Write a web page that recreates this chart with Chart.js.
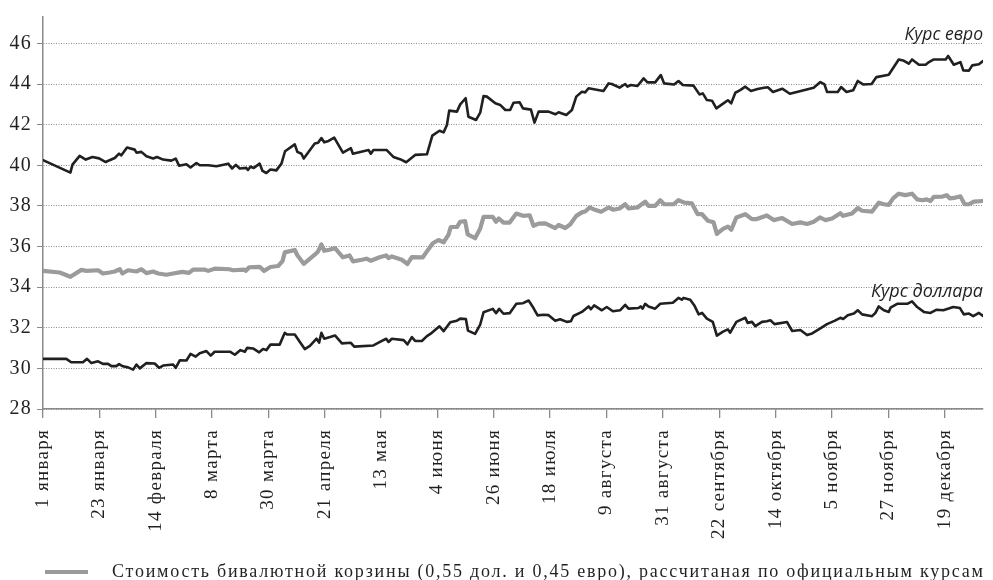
<!DOCTYPE html>
<html lang="ru">
<head>
<meta charset="utf-8">
<title>Курсы валют</title>
<script src="https://cdn.jsdelivr.net/npm/chart.js@4.4.1/dist/chart.umd.min.js"></script>
<style>
  html, body { margin: 0; padding: 0; background: #fff; }
  canvas { display: block; }
</style>
</head>
<body>
<canvas id="kursy" width="993" height="580"></canvas>
<script>
// === ДАННЫЕ (день от 1 января, значение в рублях) ===
const tickLabels = ['1 января', '23 января', '14 февраля', '8 марта', '30 марта', '21 апреля', '13 мая',
  '4 июня', '26 июня', '18 июля', '9 августа', '31 августа', '22 сентября', '14 октября',
  '5 ноября', '27 ноября', '19 декабря'];
const yTicks = [28, 30, 32, 34, 36, 38, 40, 42, 44, 46];

const euroDays = [0, 10.7, 11.5, 14.3, 16.7, 19.3, 21.9, 24.5, 26, 28, 29.7, 30.6, 32.8, 35.8, 36.5, 38.4,
  40.4, 43, 44.5, 46.9, 50.1, 51.8, 53.1, 56, 57.6, 59.9, 61.2, 64.5, 67.7, 72.3, 73.8, 75.3, 76.8, 79.4,
  80, 81, 82.3, 84.6, 85.7, 87.2, 88.8, 91.1, 93.1, 94.5, 98.3, 99.3, 100.9, 101.8, 106.1, 107.4, 108.7,
  109.8, 111.5, 113.7, 117.1, 120.2, 121, 127.1, 128, 129, 134.2, 136.8, 139.4, 141.8, 145.3, 149.9, 152,
  154.8, 156.4, 157.7, 158.6, 161.6, 162.9, 165, 166.1, 169.1, 170.7, 172, 173.3, 176.6, 178.5, 180.5,
  182.4, 183.7, 186.1, 187.4, 190.5, 191.9, 193.5, 197.4, 200, 201.3, 204.3, 206.5, 208.2, 210.4, 211.7,
  213, 218.8, 220.8, 222.1, 225.1, 227.3, 228.2, 229.5, 232.1, 234.5, 236, 239, 241.2, 242.5, 246.4,
  248.1, 249.8, 254, 256.3, 257.6, 259.2, 261.2, 262.9, 265.1, 267.4, 268.7, 270.3, 272.2, 274.2, 276.4,
  279, 281.5, 283, 285, 288.6, 291.6, 300.9, 303.5, 305.1, 306.1, 310.3, 311.6, 313.7, 316.3, 318.1,
  320.2, 323.5, 325.4, 330.2, 334.1, 335.8, 338, 339.3, 342, 344.6, 345.9, 347.8, 352.4, 353.4, 355.6,
  358.2, 359.3, 361.5, 362.8, 365.4, 367];
const euroValues = [40.25, 39.64, 40.03, 40.46, 40.28, 40.41, 40.34, 40.16, 40.25, 40.36, 40.57, 40.49,
  40.87, 40.77, 40.62, 40.66, 40.44, 40.33, 40.41, 40.28, 40.23, 40.33, 39.98, 40.05, 39.89, 40.11, 40.0,
  40.0, 39.95, 40.08, 39.84, 40.02, 39.84, 39.87, 39.77, 39.93, 39.87, 40.08, 39.72, 39.62, 39.79, 39.75,
  40.08, 40.69, 41.03, 40.66, 40.57, 40.33, 41.07, 41.11, 41.34, 41.13, 41.2, 41.36, 40.62, 40.84, 40.57,
  40.75, 40.57, 40.75, 40.75, 40.41, 40.3, 40.15, 40.51, 40.54, 41.46, 41.7, 41.62, 41.98, 42.69, 42.64,
  43.0, 43.3, 42.39, 42.23, 42.59, 43.41, 43.38, 43.05, 42.97, 42.72, 42.72, 43.08, 43.1, 42.8, 42.74,
  42.1, 42.64, 42.64, 42.51, 42.61, 42.48, 42.72, 43.38, 43.62, 43.59, 43.79, 43.66, 44.03, 44.0, 43.82,
  44.0, 43.87, 43.95, 43.9, 44.28, 44.08, 44.08, 44.44, 44.03, 43.98, 44.15, 43.95, 43.92, 43.49, 43.54,
  43.21, 43.18, 42.8, 43.0, 43.2, 43.05, 43.57, 43.7, 43.87, 43.66, 43.75, 43.82, 43.84, 43.61, 43.77,
  43.52, 43.82, 44.1, 43.98, 43.61, 43.61, 43.85, 43.61, 43.69, 44.15, 43.98, 44.0, 44.34, 44.46, 45.21,
  45.16, 45.0, 45.21, 44.95, 44.95, 45.08, 45.21, 45.21, 45.38, 44.95, 45.08, 44.67, 44.66, 44.92, 44.97,
  45.13];

const basketDays = [0, 6.5, 10.7, 15, 17, 21.5, 23.4, 26, 28, 30, 31, 33.2, 36.5, 38.4, 40.4, 43, 45, 48.2,
  50.8, 54.4, 57, 58.6, 63.2, 64.5, 67, 72.8, 74.1, 78.6, 79.2, 80.5, 84.6, 86.3, 88.8, 91.8, 93.5, 94.4,
  98.3, 99.3, 101.8, 106.1, 107.4, 108.7, 109.8, 111.8, 114, 117.1, 119.7, 121, 124.5, 126.3, 128, 131.4,
  134, 134.9, 136.2, 140.1, 142.3, 144, 148.3, 149.9, 152.2, 154.4, 156.4, 158.3, 159.2, 161.6, 162.9,
  164.8, 165.8, 168.7, 170.7, 172, 175.6, 176.9, 177.9, 179.8, 182.2, 184.8, 187.4, 190, 191.5, 193.5,
  196.1, 200, 201.3, 203.9, 205.8, 208.2, 210.4, 211.7, 213.4, 214.9, 217.9, 220.8, 222.7, 225.1, 227.3,
  228.6, 232.1, 235.1, 236.4, 239, 241, 242.5, 246.2, 248.1, 250.4, 253.3, 255.6, 257.3, 259.6, 261.8,
  263.1, 265.5, 267.4, 268.7, 270.7, 274.2, 276.8, 278.7, 282.6, 285.3, 288.6, 292.5, 295.7, 298.3,
  300.9, 303.3, 305.5, 308.1, 311.3, 312.4, 315.9, 318.1, 319.8, 323.7, 326.3, 328.3, 330.2, 331.9,
  334.1, 336.7, 339.3, 341.3, 343.3, 345, 346.5, 347.8, 351, 352.8, 354.1, 356.3, 358.2, 359.8, 361.5,
  363.4, 367];
const basketValues = [34.8, 34.72, 34.51, 34.85, 34.8, 34.83, 34.67, 34.72, 34.77, 34.88, 34.67, 34.83,
  34.77, 34.88, 34.69, 34.77, 34.67, 34.61, 34.67, 34.75, 34.7, 34.86, 34.86, 34.8, 34.91, 34.88, 34.83,
  34.86, 34.8, 34.98, 35.0, 34.8, 34.99, 35.04, 35.28, 35.71, 35.83, 35.57, 35.15, 35.6, 35.76, 36.1,
  35.79, 35.84, 35.92, 35.47, 35.56, 35.27, 35.35, 35.4, 35.3, 35.47, 35.56, 35.43, 35.51, 35.35, 35.14,
  35.48, 35.47, 35.76, 36.16, 36.32, 36.21, 36.57, 36.96, 36.96, 37.22, 37.25, 36.6, 36.41, 36.89, 37.46,
  37.46, 37.22, 37.38, 37.18, 37.18, 37.62, 37.51, 37.54, 37.02, 37.13, 37.14, 36.91, 37.06, 36.91, 37.08,
  37.51, 37.68, 37.72, 37.92, 37.84, 37.71, 37.92, 37.81, 37.87, 38.08, 37.87, 37.92, 38.21, 38.0, 38.0,
  38.28, 38.08, 38.08, 38.28, 38.16, 38.13, 37.59, 37.59, 37.27, 37.19, 36.62, 36.87, 36.98, 36.82, 37.43,
  37.59, 37.35, 37.35, 37.53, 37.3, 37.4, 37.11, 37.19, 37.11, 37.22, 37.43, 37.3, 37.38, 37.64, 37.51,
  37.63, 37.89, 37.76, 37.72, 38.16, 38.08, 38.05, 38.37, 38.6, 38.53, 38.6, 38.32, 38.28, 38.32, 38.24,
  38.44, 38.45, 38.53, 38.37, 38.41, 38.47, 38.08, 38.08, 38.21, 38.24];

const usdDays = [0, 9.1, 11, 15.6, 17.2, 18.9, 21.5, 23.4, 25.4, 26.7, 28.6, 29.7, 31.2, 33.2, 35.2, 36.5,
  37.8, 40.4, 43.6, 45.3, 46.9, 50.8, 51.8, 53.4, 56, 57.6, 59.6, 61.2, 63.8, 65.5, 67, 73, 74.9, 77.1,
  78.8, 79.7, 82, 84.4, 85.9, 87.2, 88.8, 92.4, 94.4, 95.3, 98.3, 100.3, 102.2, 104.2, 106.8, 107.8, 108.7,
  109.8, 112.1, 114, 116.7, 120.2, 121.5, 129, 132.3, 134, 134.9, 136.2, 140.8, 142.3, 144, 145.3, 147.9,
  149.9, 151.8, 154.8, 156.4, 159, 161.6, 162.9, 165.1, 165.9, 168.7, 170.7, 172, 175.6, 176.9, 178.1,
  179.8, 182.2, 184.8, 187.4, 189.6, 191.5, 193.1, 195.4, 197.4, 200, 201.9, 204.5, 206.1, 207.1, 210.4,
  213, 213.9, 215.2, 218.2, 220.1, 222.5, 225.3, 227.3, 228.6, 232.5, 233.3, 234.1, 235.1, 236.4, 239,
  241, 245.9, 248.1, 249.4, 250.1, 252.7, 254.3, 256, 257.3, 259.2, 261.5, 263.1, 265.5, 267.4, 268.3,
  270.7, 274.2, 275.1, 276.8, 278.1, 280.7, 282.6, 284, 285.6, 290.5, 292.5, 295.7, 298.3, 300.3, 303.5,
  306.1, 309, 311.3, 312.4, 314.2, 316.6, 318.1, 319.8, 323.7, 325, 326.3, 328.3, 330.2, 330.9, 333.5,
  337.4, 339.3, 341.3, 343.9, 346.5, 348.9, 351.5, 355.4, 358, 359.5, 361.5, 363.2, 365.4, 367];
const usdValues = [30.47, 30.47, 30.3, 30.3, 30.47, 30.26, 30.35, 30.22, 30.22, 30.11, 30.11, 30.21, 30.1,
  30.05, 29.94, 30.19, 30.0, 30.26, 30.24, 30.03, 30.14, 30.19, 30.03, 30.4, 30.39, 30.71, 30.58, 30.75,
  30.85, 30.63, 30.82, 30.82, 30.67, 30.9, 30.82, 31.01, 30.98, 30.79, 30.95, 30.9, 31.17, 31.17, 31.75,
  31.67, 31.67, 31.3, 30.95, 31.11, 31.46, 31.27, 31.75, 31.46, 31.54, 31.62, 31.23, 31.26, 31.07, 31.13,
  31.35, 31.46, 31.3, 31.46, 31.39, 31.18, 31.54, 31.35, 31.35, 31.59, 31.75, 32.07, 31.83, 32.27, 32.35,
  32.45, 32.43, 31.86, 31.7, 32.16, 32.76, 32.93, 32.72, 32.93, 32.69, 32.72, 33.18, 33.21, 33.34, 32.97,
  32.61, 32.64, 32.62, 32.34, 32.42, 32.29, 32.32, 32.58, 32.78, 33.05, 32.91, 33.1, 32.86, 33.02, 32.81,
  32.86, 33.13, 32.94, 32.97, 33.05, 32.94, 33.18, 33.05, 32.94, 33.18, 33.23, 33.47, 33.38, 33.47, 33.38,
  33.1, 32.66, 32.73, 32.45, 32.29, 31.61, 31.81, 31.92, 31.76, 32.29, 32.49, 32.24, 32.29, 32.08, 32.29,
  32.32, 32.37, 32.18, 32.28, 31.84, 31.89, 31.64, 31.72, 31.97, 32.18, 32.34, 32.49, 32.43, 32.62, 32.7,
  32.86, 32.66, 32.57, 32.73, 33.05, 32.86, 32.78, 32.99, 33.18, 33.18, 33.3, 33.02, 32.78, 32.73, 32.89,
  32.86, 33.02, 32.97, 32.66, 32.7, 32.57, 32.73, 32.58];

const legendText = 'Стоимость бивалютной корзины (0,55 дол. и 0,45 евро), рассчитаная по официальным курсам';

// === ОФОРМЛЕНИЕ ===
const cBlack = '#231f20';
const cGray = '#9b9b9b';
const cAxis = '#8a8a8a';
const serif = "'Liberation Serif', 'DejaVu Serif', serif";
const sans = "'Open Sans', 'Noto Sans', sans-serif";

function toPoints(days, values) {
  return days.map((d, i) => ({ x: d, y: values[i] }));
}

// разрядка для подписей осей (в оригинале шрифт шире)
const tracking = {
  id: 'tracking',
  beforeDraw(chart) {
    if ('letterSpacing' in chart.ctx) chart.ctx.letterSpacing = '1.3px';
  }
};

// подписи «Курс евро» / «Курс доллара» у правого края
const seriesNotes = {
  id: 'seriesNotes',
  afterDatasetsDraw(chart) {
    const { ctx, chartArea, scales: { y } } = chart;
    ctx.save();
    if ('letterSpacing' in ctx) ctx.letterSpacing = '0px';
    ctx.fillStyle = cBlack;
    ctx.textAlign = 'right';
    ctx.textBaseline = 'alphabetic';
    ctx.font = 'italic 17.5px ' + sans;
    ctx.fillText('Курс евро', chartArea.right, y.getPixelForValue(46) - 3);
    ctx.font = 'italic 18px ' + sans;
    ctx.fillText('Курс доллара', chartArea.right, y.getPixelForValue(33.5));
    ctx.restore();
  }
};

// легенда только для корзины, внизу под осью
const basketLegend = {
  id: 'basketLegend',
  afterDraw(chart) {
    const { ctx } = chart;
    const ds = chart.data.datasets[1];
    ctx.save();
    ctx.strokeStyle = ds.borderColor;
    ctx.lineWidth = ds.borderWidth;
    ctx.beginPath();
    ctx.moveTo(45, 572);
    ctx.lineTo(88, 572);
    ctx.stroke();
    ctx.font = '18px ' + serif;
    ctx.fillStyle = cBlack;
    ctx.textBaseline = 'alphabetic';
    if ('letterSpacing' in ctx) {
      ctx.letterSpacing = '0px';
      const w = ctx.measureText(ds.label).width;
      ctx.letterSpacing = ((873 - w) / ds.label.length).toFixed(2) + 'px';
    }
    ctx.fillText(ds.label, 112, 577);
    ctx.restore();
  }
};

new Chart(document.getElementById('kursy'), {
  type: 'line',
  data: {
    datasets: [
      { label: 'Курс евро', data: toPoints(euroDays, euroValues), borderColor: cBlack, borderWidth: 2.6 },
      { label: legendText, data: toPoints(basketDays, basketValues), borderColor: cGray, borderWidth: 4.2 },
      { label: 'Курс доллара', data: toPoints(usdDays, usdValues), borderColor: cBlack, borderWidth: 2.6 }
    ]
  },
  options: {
    responsive: false,
    animation: false,
    devicePixelRatio: 1,
    layout: { padding: { top: 15, right: 10, left: 0, bottom: 31 } },
    elements: {
      point: { radius: 0 },
      line: { tension: 0, borderJoinStyle: 'round', borderCapStyle: 'round' }
    },
    plugins: { legend: { display: false }, tooltip: { enabled: false } },
    scales: {
      x: {
        type: 'linear',
        min: 0,
        max: 367,
        afterBuildTicks: s => { s.ticks = tickLabels.map((_, i) => ({ value: i * 22 })); },
        afterFit: s => { s.height = 140; },
        grid: { drawOnChartArea: false, drawTicks: true, tickLength: 9, color: cAxis, lineWidth: 1.3 },
        border: { display: true, color: cAxis, width: 1.5 },
        ticks: {
          autoSkip: false,
          minRotation: 90,
          maxRotation: 90,
          padding: 11,
          color: cBlack,
          font: { family: serif, size: 19 },
          callback: (v, i) => tickLabels[i]
        }
      },
      y: {
        min: 28,
        max: 47.3,
        afterBuildTicks: s => { s.ticks = yTicks.map(v => ({ value: v })); },
        afterFit: s => { s.width = 43; },
        grid: { color: cAxis, lineWidth: 1, tickLength: 6 },
        border: { display: true, color: cAxis, width: 1.5, dash: [1, 1.5] },
        ticks: { padding: 5, color: cBlack, font: { family: serif, size: 20 } }
      }
    }
  },
  plugins: [tracking, seriesNotes, basketLegend]
});
</script>
</body>
</html>
